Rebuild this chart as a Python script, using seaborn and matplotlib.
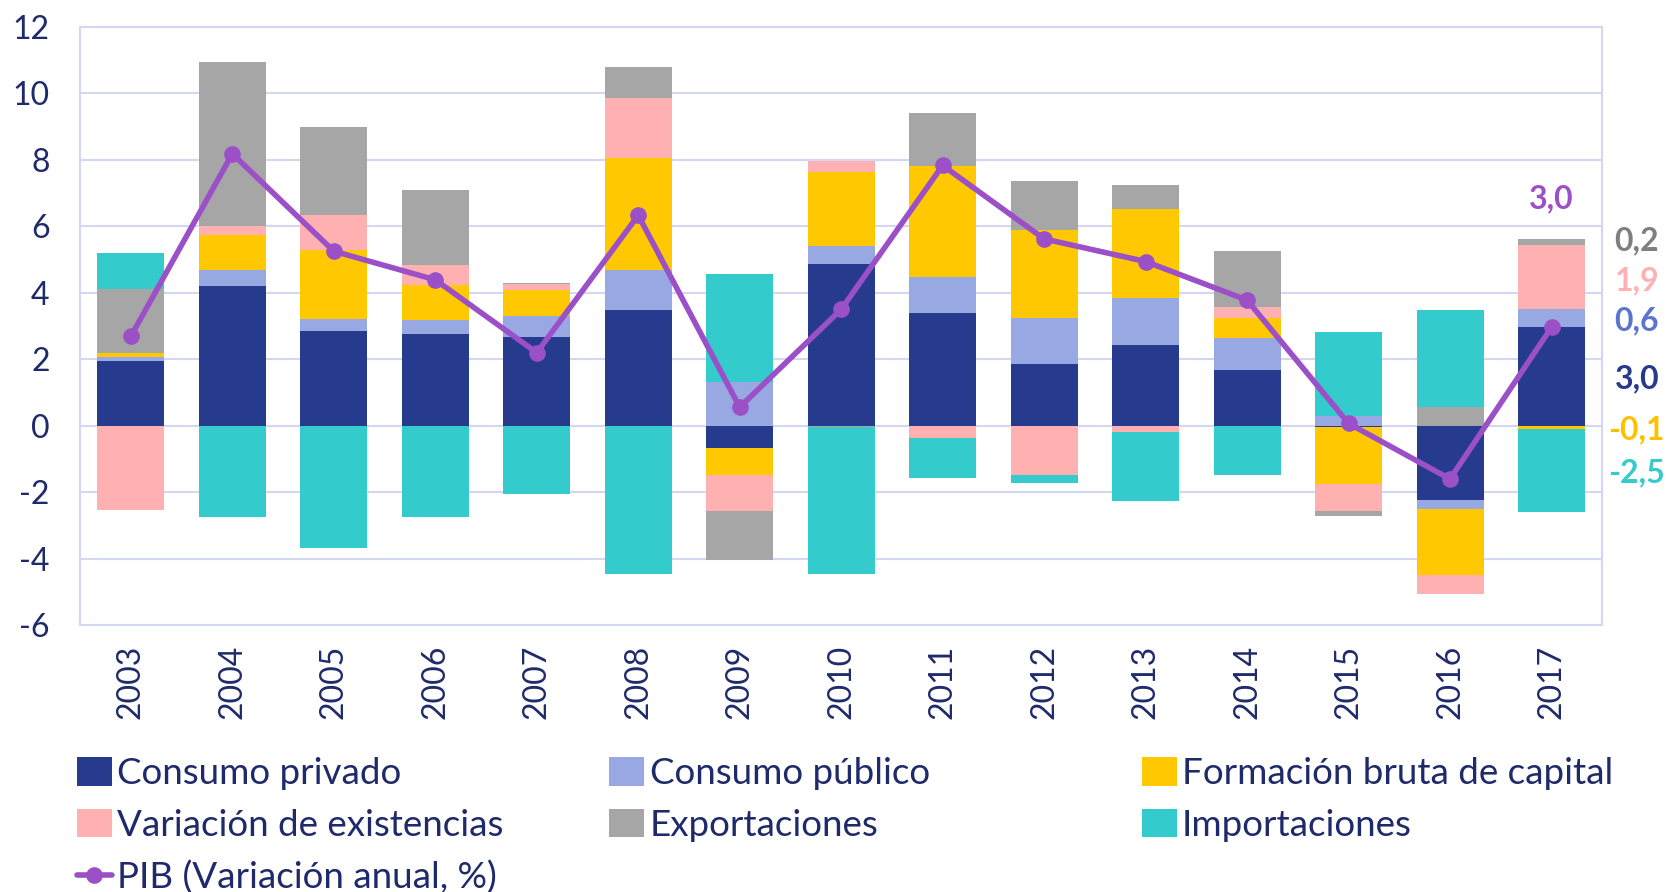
import matplotlib
matplotlib.use("Agg")
import numpy as np
import matplotlib.pyplot as plt
import seaborn as sns
from matplotlib.patches import Patch
from matplotlib.lines import Line2D

# Data (contribuciones al crecimiento del PIB, puntos porcentuales)
years = [2003, 2004, 2005, 2006, 2007, 2008, 2009, 2010, 2011, 2012, 2013, 2014, 2015, 2016, 2017]
consumo_privado = [1.95, 4.21, 2.86, 2.76, 2.67, 3.48, -0.66, 4.88, 3.40, 1.87, 2.43, 1.68, -0.05, -2.23, 2.96]
consumo_publico = [0.12, 0.48, 0.35, 0.41, 0.63, 1.21, 1.33, 0.54, 1.08, 1.38, 1.42, 0.95, 0.28, -0.27, 0.56]
formacion_capital = [0.11, 1.05, 2.09, 1.05, 0.77, 3.35, -0.81, 2.22, 3.34, 2.63, 2.67, 0.62, -1.69, -1.98, -0.11]
variacion_exist = [-2.52, 0.27, 1.04, 0.61, 0.19, 1.81, -1.08, 0.31, -0.36, -1.47, -0.20, 0.32, -0.81, -0.59, 1.92]
exportaciones = [1.93, 4.92, 2.64, 2.26, 0.03, 0.95, -1.50, -0.05, 1.58, 1.48, 0.71, 1.68, -0.17, 0.55, 0.17]
importaciones = [1.09, -2.74, -3.68, -2.74, -2.05, -4.45, 3.23, -4.40, -1.20, -0.26, -2.07, -1.47, 2.53, 2.93, -2.48]
pib = [2.69, 8.18, 5.25, 4.39, 2.20, 6.33, 0.56, 3.50, 7.83, 5.62, 4.94, 3.78, 0.07, -1.60, 2.96]

series_names = ["Consumo privado", "Consumo público", "Formación bruta de capital",
                "Variación de existencias", "Exportaciones", "Importaciones"]
series_vals = [consumo_privado, consumo_publico, formacion_capital,
               variacion_exist, exportaciones, importaciones]
series_colors = ["#263A8E", "#97A8E2", "#FFC800", "#FFB1B1", "#A6A6A6", "#33CBCB"]
pib_color = "#9B50C8"
text_color = "#1F2A6B"
grid_color = "#D3D7F2"

# last-year labels on the right
end_labels = ["0,2", "1,9", "0,6", "3,0", "-0,1", "-2,5"]
end_colors = ["#7F7F7F", "#FFB1B1", "#5B74D2", "#263A8E", "#FFC000", "#33CBCB"]
end_ypos = [5.55, 4.36, 3.17, 1.41, -0.13, -1.41]

sns.set_theme(style="white")
plt.rcParams["font.family"] = ["Lato", "DejaVu Sans"]

fig = plt.figure(figsize=(16.69, 8.92), dpi=100)
ax = fig.add_axes([0.048, 0.299, 0.912, 0.671])

x = np.arange(len(years))
pos_base = np.zeros(len(years))
neg_base = np.zeros(len(years))
for name, vals, col in zip(series_names, series_vals, series_colors):
    v = np.array(vals)
    pos = np.where(v > 0, v, 0)
    neg = np.where(v < 0, v, 0)
    ax.bar(x, pos, bottom=pos_base, width=0.66, color=col, edgecolor="none", zorder=2)
    ax.bar(x, neg, bottom=neg_base, width=0.66, color=col, edgecolor="none", zorder=2)
    pos_base += pos
    neg_base += neg

sns.lineplot(x=x, y=pib, ax=ax, color=pib_color, linewidth=4, marker="o",
             markersize=12, markeredgewidth=0, zorder=3, legend=False)

ax.set_xlim(-0.5, 14.5)
ax.set_ylim(-6, 12)
ax.set_yticks(range(-6, 13, 2))
ax.set_yticklabels([str(t) for t in range(-6, 13, 2)])
ax.set_xticks(x)
ax.set_xticklabels([str(y) for y in years], rotation=90)
ax.tick_params(axis="y", length=0, pad=22, labelsize=23, labelcolor=text_color)
ax.tick_params(axis="x", length=0, pad=14, labelsize=23, labelcolor=text_color)
ax.yaxis.grid(True, color=grid_color, linewidth=1.5, zorder=0)
ax.set_axisbelow(True)
for s in ax.spines.values():
    s.set_color(grid_color)
    s.set_linewidth(1.5)
ax.set_xlabel("")
ax.set_ylabel("")

for lab, col, yy in zip(end_labels, end_colors, end_ypos):
    ax.text(14.84, yy, lab, color=col, fontsize=23, fontweight="bold",
            ha="center", va="center", clip_on=False)
ax.text(14.0, 6.83, "3,0", color=pib_color, fontsize=23, fontweight="bold",
        ha="center", va="center")

# Legend in three columns
patches = [Patch(facecolor=c, edgecolor="none", label=n) for n, c in zip(series_names, series_colors)]
pib_handle = Line2D([0], [0], color=pib_color, linewidth=4, marker="o", markersize=12,
                    markeredgewidth=0, label="PIB (Variación anual, %)")
columns = [[patches[0], patches[3], pib_handle], [patches[1], patches[4]], [patches[2], patches[5]]]
col_x = [0.046, 0.365, 0.684]
for hs, cx in zip(columns, col_x):
    leg = fig.legend(handles=hs, loc="upper left", bbox_to_anchor=(cx, 0.151),
                     frameon=False, fontsize=26.5, handlelength=0.95, handleheight=0.8,
                     handletextpad=0.15, labelspacing=0.5, borderaxespad=0, borderpad=0)
    for t in leg.get_texts():
        t.set_color(text_color)

fig.savefig("out.png", dpi=100)
